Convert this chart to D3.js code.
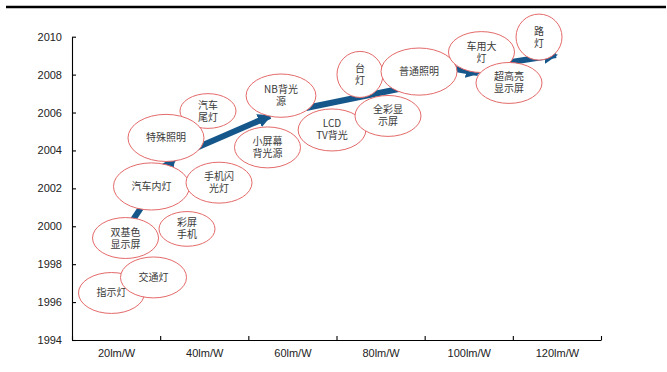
<!DOCTYPE html>
<html>
<head>
<meta charset="utf-8">
<script src="https://cdn.jsdelivr.net/npm/d3@7/dist/d3.min.js"></script>
<style>
  html, body { margin: 0; padding: 0; background: #fff; }
  svg { display: block; }
</style>
</head>
<body>
<svg id="chart" width="667" height="372"></svg>
<script>
// LED luminous efficacy vs. year of adoption for each application
const yearTicks = [1994, 1996, 1998, 2000, 2002, 2004, 2006, 2008, 2010];
const efficacyBounds = [10, 30, 50, 70, 90, 110, 130];
const efficacyValues = [20, 40, 60, 80, 100, 120];
const efficacyLabels = ["20lm/W", "40lm/W", "60lm/W", "80lm/W", "100lm/W", "120lm/W"];

// Applications (line breaks with \n), drawn in this order
const appNames = [
  "指示灯", "交通灯", "双基色\n显示屏", "彩屏\n手机", "汽车内灯", "手机闪\n光灯",
  "汽车\n尾灯", "特殊照明", "小屏幕\n背光源", "NB背光\n源", "LCD\nTV背光", "全彩显\n示屏",
  "台\n灯", "普通照明", "车用大\n灯", "超高亮\n显示屏", "路\n灯"
];
const appEfficacy = [
  18.96, 28.49, 22.14, 36.09, 28.03, 43.35,
  40.85, 31.32, 54.35, 57.41, 68.98, 81.68,
  75.33, 88.72, 102.89, 109.13, 115.94
];
const appYear = [
  1996.48, 1997.30, 1999.38, 1999.86, 2002.10, 2002.30,
  2006.08, 2004.66, 2004.16, 2006.89, 2005.08, 2005.82,
  2008.01, 2008.16, 2009.19, 2007.56, 2009.98
];

// Trend arrow, as consecutive segments (efficacy, year) -> (efficacy, year)
const trendFromEff  = [22.02, 38.13, 63.08, 94.61, 108.22];
const trendFromYear = [1999.70, 2004.13, 2006.24, 2008.40, 2008.61];
const trendToEff    = [33.14, 54.92, 88.49, 102.10, 119.79];
const trendToYear   = [2003.60, 2005.82, 2007.45, 2008.08, 2009.03];

const svg = d3.select("#chart");

const x = d3.scaleLinear().domain([10, 130]).range([72, 601]);
const y = d3.scaleLinear().domain([1994, 2010]).range([340, 36.7]);

const tickFont = "'Liberation Sans', Arial, sans-serif";
const cjkFont = "'Noto Sans CJK SC', 'Noto Sans', sans-serif";

// Heavy rule across the top
svg.append("line")
  .attr("x1", 6).attr("x2", 666)
  .attr("y1", 7).attr("y2", 7)
  .attr("stroke", "#000").attr("stroke-width", 2.6);

// Y axis (years), ticks pointing inward
const yAxis = svg.append("g")
  .attr("transform", `translate(${x(10)},0)`)
  .call(d3.axisLeft(y).tickValues(yearTicks).tickFormat(d3.format("d"))
    .tickSize(-4).tickSizeOuter(0).tickPadding(10));
yAxis.selectAll("text")
  .attr("font-family", tickFont).attr("font-size", 11).attr("fill", "#222");

// X axis: category boundaries as ticks
const xAxis = svg.append("g")
  .attr("transform", `translate(0,${y(1994)})`)
  .call(d3.axisBottom(x).tickValues(efficacyBounds).tickFormat("")
    .tickSize(-4).tickSizeOuter(0));

// X category labels centred between the ticks
const xLabels = svg.append("g")
  .attr("transform", `translate(0,${y(1994)})`)
  .call(d3.axisBottom(x).tickValues(efficacyValues)
    .tickFormat((d, i) => efficacyLabels[i]).tickSize(0).tickPadding(9));
xLabels.select(".domain").remove();
xLabels.selectAll("text")
  .attr("font-family", tickFont).attr("font-size", 11).attr("fill", "#222");

[yAxis, xAxis].forEach(g => {
  g.selectAll("path, line").attr("stroke", "#000").attr("stroke-width", 1.1);
});

// Trend arrow
const arrowColor = "#15578a";
svg.append("defs").append("marker")
  .attr("id", "head")
  .attr("markerUnits", "userSpaceOnUse")
  .attr("viewBox", "0 0 14 14")
  .attr("refX", 12).attr("refY", 7)
  .attr("markerWidth", 14).attr("markerHeight", 14)
  .attr("orient", "auto")
  .append("path")
  .attr("d", "M0,0 L14,7 L0,14 Z")
  .attr("fill", arrowColor);

svg.append("g").selectAll("line")
  .data(trendFromEff)
  .join("line")
  .attr("x1", (d, i) => x(trendFromEff[i]))
  .attr("y1", (d, i) => y(trendFromYear[i]))
  .attr("x2", (d, i) => x(trendToEff[i]))
  .attr("y2", (d, i) => y(trendToYear[i]))
  .attr("stroke", arrowColor)
  .attr("stroke-width", 6)
  .attr("marker-end", "url(#head)");

// Application bubbles
const bubbles = svg.append("g").selectAll("g")
  .data(appNames)
  .join("g")
  .attr("transform", (d, i) => `translate(${x(appEfficacy[i])},${y(appYear[i])})`);

bubbles.append("ellipse")
  .attr("fill", "#fff")
  .attr("stroke", "#e46a6a")
  .attr("stroke-width", 1);

const lineH = 12;
bubbles.each(function (name) {
  const g = d3.select(this);
  const lines = name.split("\n");
  const t = g.append("text")
    .attr("font-family", cjkFont)
    .attr("font-size", 10)
    .attr("fill", "#3a3a3a")
    .attr("text-anchor", "middle");
  lines.forEach((ln, k) => {
    t.append("tspan")
      .attr("x", 0)
      .attr("y", (k - (lines.length - 1) / 2) * lineH)
      .attr("dy", "0.35em")
      .text(ln);
  });
  // ellipse sized around its label
  const w = t.node().getBBox().width;
  const rx = w / 2 + 18;
  const ry = rx < 25 ? rx : rx * 0.62;
  g.select("ellipse").attr("rx", rx).attr("ry", ry);
});
</script>
</body>
</html>
